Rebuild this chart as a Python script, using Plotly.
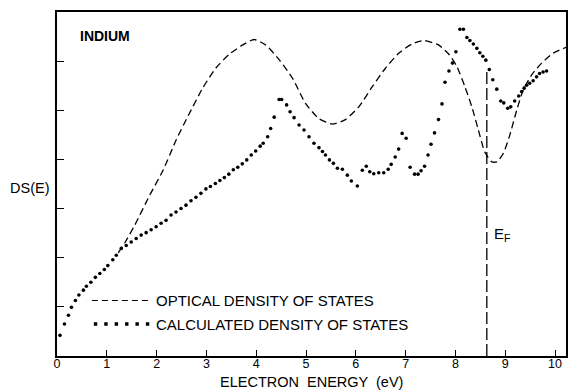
import plotly.graph_objects as go

# Optical density of states (dashed curve), energy in eV vs DS(E)
optical_e = [1.23, 1.36, 1.56, 1.86, 2.13, 2.39, 2.66, 2.93, 3.19, 3.46, 3.73, 3.96,
             4.19, 4.46, 4.73, 4.99, 5.26, 5.53, 5.79, 6.06, 6.33, 6.59, 6.86, 7.13, 7.36,
             7.66, 7.86, 8.03, 8.19, 8.33, 8.46, 8.59, 8.73, 8.83, 8.96, 9.09, 9.23, 9.36,
             9.53, 9.73, 9.96, 10.22]
optical_ds = [2.10, 2.30, 2.66, 3.27, 3.78, 4.39, 4.94, 5.46, 5.86, 6.14, 6.33, 6.44,
              6.33, 6.03, 5.65, 5.14, 4.83, 4.72, 4.81, 5.07, 5.48, 5.85, 6.16, 6.35, 6.42,
              6.33, 6.15, 5.89, 5.48, 5.07, 4.60, 4.15, 3.95, 3.95, 4.12, 4.49, 5.00, 5.41,
              5.72, 5.96, 6.16, 6.28]

# Calculated density of states (dotted points)
calc_e = [0.06, 0.15, 0.23, 0.29, 0.37, 0.44, 0.53, 0.59, 0.68, 0.77, 0.86, 0.95, 1.02,
          1.12, 1.19, 1.29, 1.39, 1.49, 1.59, 1.69, 1.79, 1.89, 1.99, 2.09, 2.19, 2.29,
          2.39, 2.49, 2.59, 2.69, 2.79, 2.89, 2.99, 3.08, 3.18, 3.27, 3.36, 3.45, 3.54,
          3.63, 3.72, 3.81, 3.90, 3.99, 4.08, 4.14, 4.23, 4.29, 4.36, 4.46, 4.51, 4.61,
          4.68, 4.76, 4.86, 4.96, 5.06, 5.16, 5.26, 5.33, 5.39, 5.47, 5.55, 5.63, 5.73,
          5.83, 5.91, 6.03, 6.13, 6.21, 6.28, 6.36, 6.46, 6.56, 6.65, 6.71, 6.79, 6.86,
          6.93, 7.01, 7.09, 7.18, 7.25, 7.31, 7.38, 7.45, 7.51, 7.58, 7.66, 7.73, 7.79,
          7.87, 7.94, 8.01, 8.09, 8.16, 8.23, 8.29, 8.36, 8.43, 8.49, 8.55, 8.61, 8.68,
          8.75, 8.83, 8.91, 8.97, 9.05, 9.11, 9.19, 9.27, 9.33, 9.38, 9.43, 9.49, 9.56,
          9.63, 9.69, 9.76, 9.83]
calc_ds = [0.42, 0.65, 0.83, 0.99, 1.13, 1.24, 1.34, 1.42, 1.50, 1.60, 1.68, 1.76, 1.84,
           1.96, 2.05, 2.19, 2.25, 2.32, 2.39, 2.46, 2.51, 2.57, 2.63, 2.70, 2.76, 2.87,
           2.93, 3.00, 3.07, 3.16, 3.23, 3.31, 3.40, 3.45, 3.51, 3.57, 3.63, 3.70, 3.79,
           3.84, 3.91, 3.99, 4.09, 4.17, 4.27, 4.33, 4.46, 4.63, 4.86, 5.22, 5.22, 5.11,
           4.97, 4.85, 4.70, 4.60, 4.46, 4.33, 4.24, 4.16, 4.09, 3.99, 3.92, 3.82, 3.80,
           3.68, 3.56, 3.46, 3.78, 3.86, 3.75, 3.71, 3.73, 3.73, 3.80, 3.90, 4.05, 4.21,
           4.53, 4.43, 3.84, 3.70, 3.70, 3.77, 3.86, 4.09, 4.31, 4.54, 4.81, 5.13, 5.57,
           5.80, 5.96, 6.19, 6.65, 6.65, 6.48, 6.42, 6.35, 6.26, 6.17, 6.10, 6.02, 5.83,
           5.62, 5.43, 5.19, 5.15, 5.04, 5.07, 5.19, 5.29, 5.38, 5.45, 5.51, 5.55, 5.60,
           5.68, 5.75, 5.78, 5.80]

fermi_energy = 8.63
fermi_top = 5.86

x_ticks = [0, 1, 2, 3, 4, 5, 6, 7, 8, 9, 10]
x_tick_labels = ["0", "1", "2", "3", "4", "5", "6", "7", "8", "9", "10"]
y_ticks = [1, 2, 3, 4, 5, 6]

legend_labels = ["OPTICAL DENSITY OF STATES", "CALCULATED DENSITY OF STATES"]

FONT = "Liberation Sans"
W, H = 569, 390
ML, MR, MT, MB = 57, 1, 12, 34
PW, PH = W - ML - MR, H - MT - MB


def px(x):
    return (x - ML) / PW


def py(y):
    return (H - MB - y) / PH


fig = go.Figure()

fig.add_trace(go.Scatter(
    x=optical_e, y=optical_ds, mode="lines",
    line=dict(color="black", width=1.3, dash="7px,4px", shape="spline", smoothing=0.6),
    showlegend=False, hoverinfo="skip",
))

fig.add_trace(go.Scatter(
    x=calc_e, y=calc_ds, mode="markers",
    marker=dict(color="black", size=3.6, line=dict(width=0)),
    showlegend=False, hoverinfo="skip",
))

# Fermi level marker
fig.add_shape(type="line", xref="x", yref="y",
              x0=fermi_energy, x1=fermi_energy, y0=0, y1=fermi_top,
              line=dict(color="black", width=1.3, dash="12px,4px"))

# Hand-drawn style legend
fig.add_shape(type="line", xref="paper", yref="paper",
              x0=px(92), x1=px(150), y0=py(300.5), y1=py(300.5),
              line=dict(color="black", width=1.1, dash="6px,4px"))
fig.add_shape(type="line", xref="paper", yref="paper",
              x0=px(94), x1=px(150), y0=py(324), y1=py(324),
              line=dict(color="black", width=3.4, dash="3.4px,7px"))

annotations = [
    dict(text=legend_labels[0], x=px(154), y=py(300.5), xanchor="left", yanchor="middle",
         font=dict(size=15)),
    dict(text=legend_labels[1], x=px(154), y=py(324), xanchor="left", yanchor="middle",
         font=dict(size=15)),
    dict(text="<b>INDIUM</b>", x=px(78), y=py(36), xanchor="left", yanchor="middle",
         font=dict(size=14)),
    dict(text="DS(E)", x=px(29), y=py(188), xanchor="center", yanchor="middle",
         font=dict(size=14.5)),
    dict(text="E<sub>F</sub>", x=px(494), y=py(234), xanchor="left", yanchor="middle",
         font=dict(size=15)),
    dict(text="ELECTRON  ENERGY  (eV)", x=px(313), y=py(381.5), xanchor="center",
         yanchor="middle", font=dict(size=14.5)),
]
for a in annotations:
    a.update(xref="paper", yref="paper", showarrow=False)
    a["font"].update(family=FONT, color="black")

fig.update_layout(
    width=W, height=H,
    margin=dict(l=ML, r=MR, t=MT, b=MB),
    paper_bgcolor="white", plot_bgcolor="white",
    annotations=annotations,
    font=dict(family=FONT, color="black"),
    xaxis=dict(range=[0, 10.22], tickvals=x_ticks, ticktext=x_tick_labels,
               ticks="inside", ticklen=6, tickwidth=1.2, tickcolor="black",
               showline=True, linewidth=1.6, linecolor="black", mirror=True,
               showgrid=False, zeroline=False, ticklabelstandoff=-5,
               tickfont=dict(size=12.5, family=FONT)),
    yaxis=dict(range=[0, 7], tickvals=y_ticks, showticklabels=False,
               ticks="inside", ticklen=7, tickwidth=1.2, tickcolor="black",
               showline=True, linewidth=1.6, linecolor="black", mirror=True,
               showgrid=False, zeroline=False),
)

fig.write_html("out.html")
